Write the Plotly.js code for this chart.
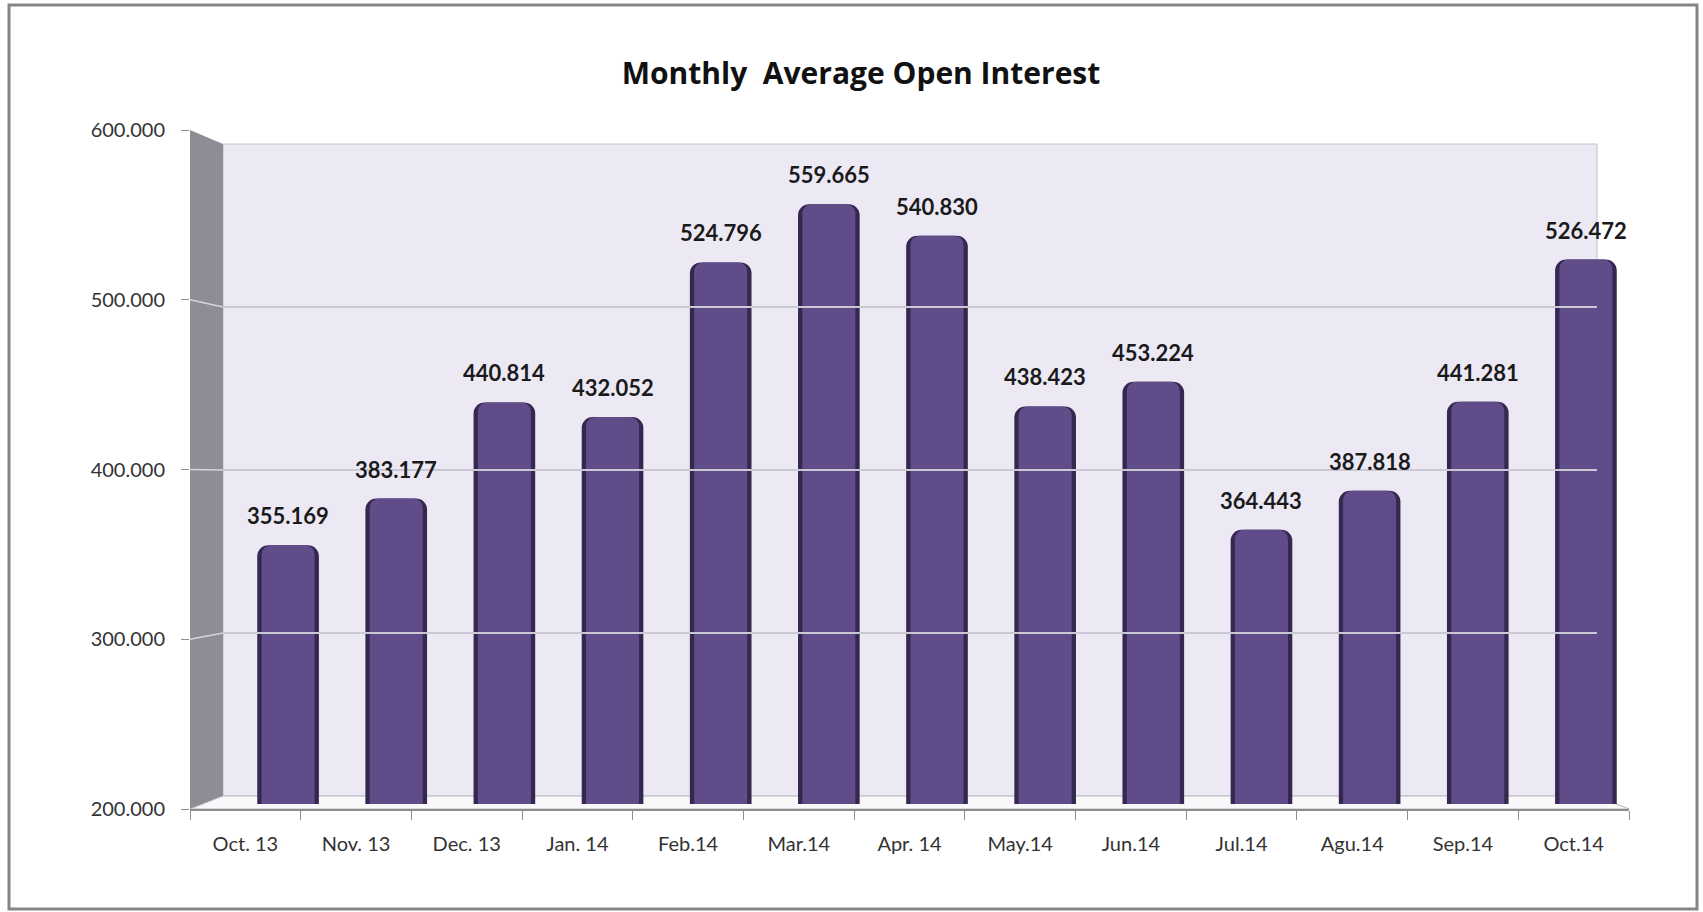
<!DOCTYPE html>
<html><head><meta charset="utf-8">
<script src="https://cdn.plot.ly/plotly-3.0.1.min.js"></script>
<style>html,body{margin:0;padding:0;background:#fff;} #chart{width:1703px;height:912px;}</style>
</head><body><div id="chart"></div>
<script>
// ---- data ----
const months = ["Oct. 13","Nov. 13","Dec. 13","Jan. 14","Feb.14","Mar.14","Apr. 14","May.14","Jun.14","Jul.14","Agu.14","Sep.14","Oct.14"];
const openInterest = [355169,383177,440814,432052,524796,559665,540830,438423,453224,364443,387818,441281,526472];
const yTicks = [200000,300000,400000,500000,600000];
const chartTitle = "Monthly  Average Open Interest";

// ---- layout helpers (pixel -> paper) ----
const W = 1703, H = 912;
const px = v => v / W;
const py = v => 1 - v / H;
const FONT = "Lato, 'Open Sans', sans-serif";

// frame geometry (pixels)
const front = {x0:190, x1:1629, yTop:130, yBot:809};
const back  = {x0:223, x1:1597, yTop:144, yBot:796};
const yMin = yTicks[0], yMax = yTicks[yTicks.length-1];
const frontY = v => front.yBot - (v - yMin) / (yMax - yMin) * (front.yBot - front.yTop);
const backY  = v => back.yBot  - (v - yMin) / (yMax - yMin) * (back.yBot  - back.yTop);

const traces = [
  // anchor trace for the front category axis (invisible)
  {type:'scatter', x: months, y: openInterest, xaxis:'x', yaxis:'y', mode:'markers',
   marker:{opacity:0}, hoverinfo:'skip', showlegend:false},
  // anchor trace for the back wall subplot (invisible)
  {type:'scatter', x: months, y: openInterest, xaxis:'x3', yaxis:'y2', mode:'markers',
   marker:{opacity:0}, hoverinfo:'skip', showlegend:false},
  // bars: dark body (side faces)
  {type:'bar', x: months, y: openInterest, xaxis:'x2', yaxis:'y3', width:0.57,
   marker:{color:'#352850', line:{width:0}, cornerradius:11},
   hoverinfo:'skip', showlegend:false},
  // bars: front face
  {type:'bar', x: months, y: openInterest, xaxis:'x2', yaxis:'y3', width:0.49,
   marker:{color:'#614c8a', line:{width:0}, cornerradius:9},
   hoverinfo:'x+y', showlegend:false}
];

const shapes = [
  // back wall
  {type:'rect', xref:'x3 domain', yref:'y2 domain', x0:0, x1:1, y0:0, y1:1,
   fillcolor:'#ece9f5', line:{color:'#c4c2cc', width:1}, layer:'below'},
  // side wall
  {type:'path', xref:'paper', yref:'paper', layer:'below',
   path:`M ${px(front.x0)},${py(front.yTop)} L ${px(back.x0)},${py(back.yTop)} L ${px(back.x0)},${py(back.yBot)} L ${px(front.x0)},${py(front.yBot)} Z`,
   fillcolor:'#8f8c95', line:{width:0}},
  // floor
  {type:'path', xref:'paper', yref:'paper', layer:'below',
   path:`M ${px(front.x0)},${py(front.yBot)} L ${px(back.x0)},${py(back.yBot)} L ${px(back.x1)},${py(back.yBot)} L ${px(front.x1)},${py(front.yBot)} Z`,
   fillcolor:'#f8f8fa', line:{color:'#b8b8bc', width:1}},
  // outer border
  {type:'rect', xref:'paper', yref:'paper', x0:px(9), x1:px(1697), y0:py(909), y1:py(5),
   fillcolor:'rgba(0,0,0,0)', line:{color:'#858585', width:3}}
];
// side-wall grid lines
yTicks.slice(1, -1).forEach(v => {
  shapes.push({type:'line', xref:'paper', yref:'paper', layer:'below',
    x0:px(front.x0), y0:py(frontY(v)), x1:px(back.x0), y1:py(backY(v)),
    line:{color:'#d6d4dc', width:1.5}});
});

const annotations = months.map((m, i) => ({
  x: m, y: openInterest[i], xref:'x2', yref:'y3', showarrow:false,
  text: openInterest[i].toLocaleString('de-DE'),
  yanchor:'bottom', yshift:14,
  font:{family:FONT, size:22, color:'#1a1a1a', weight:'bold'}
}));

const layout = {
  width: W, height: H,
  margin:{l:0, r:0, t:0, b:0},
  paper_bgcolor:'#ffffff', plot_bgcolor:'rgba(0,0,0,0)',
  separators: ',.',
  showlegend:false,
  barmode:'overlay',
  title:{text:chartTitle, x:px(861), xanchor:'center', y:py(73), yanchor:'middle',
         font:{family:"'Open Sans', Lato, sans-serif", size:30, color:'#111111', weight:'bold'}},
  font:{family:FONT, color:'#333333'},
  xaxis:{domain:[px(front.x0), px(front.x1)], anchor:'y', type:'category',
         categoryarray:months, range:[-0.5, 12.5], showgrid:false, zeroline:false,
         showline:true, linecolor:'#8c8c8c', linewidth:1.5,
         ticks:'outside', tickson:'boundaries', ticklen:9, tickcolor:'#8c8c8c',
         tickfont:{family:FONT, size:20, color:'#333333'}, ticklabelstandoff:16},
  yaxis:{domain:[py(front.yBot), py(front.yTop)], anchor:'x', range:[yMin, yMax],
         tickvals:yTicks, tickformat:',d', showgrid:false, zeroline:false, showline:false,
         ticks:'outside', ticklen:8, tickcolor:'#8c8c8c',
         tickfont:{family:FONT, size:20, color:'#333333'}, ticklabelstandoff:12},
  xaxis2:{domain:[px(234), px(1640)], anchor:'y3', type:'category', categoryarray:months,
          range:[-0.5, 12.5], visible:false},
  yaxis3:{domain:[py(804), py(137)], anchor:'x2', range:[yMin, yMax], visible:false},
  xaxis3:{domain:[px(back.x0), px(back.x1)], anchor:'y2', type:'category', categoryarray:months,
          range:[-0.5, 12.5], visible:false},
  yaxis2:{domain:[py(back.yBot), py(back.yTop)], anchor:'x3', range:[yMin, yMax],
          tickvals:yTicks, showgrid:true, gridcolor:'#cac8d2', gridwidth:1.5,
          showticklabels:false, ticks:'', zeroline:false, showline:false},
  shapes, annotations
};

Plotly.newPlot('chart', traces, layout, {displayModeBar:false, staticPlot:true});
</script>
</body></html>
